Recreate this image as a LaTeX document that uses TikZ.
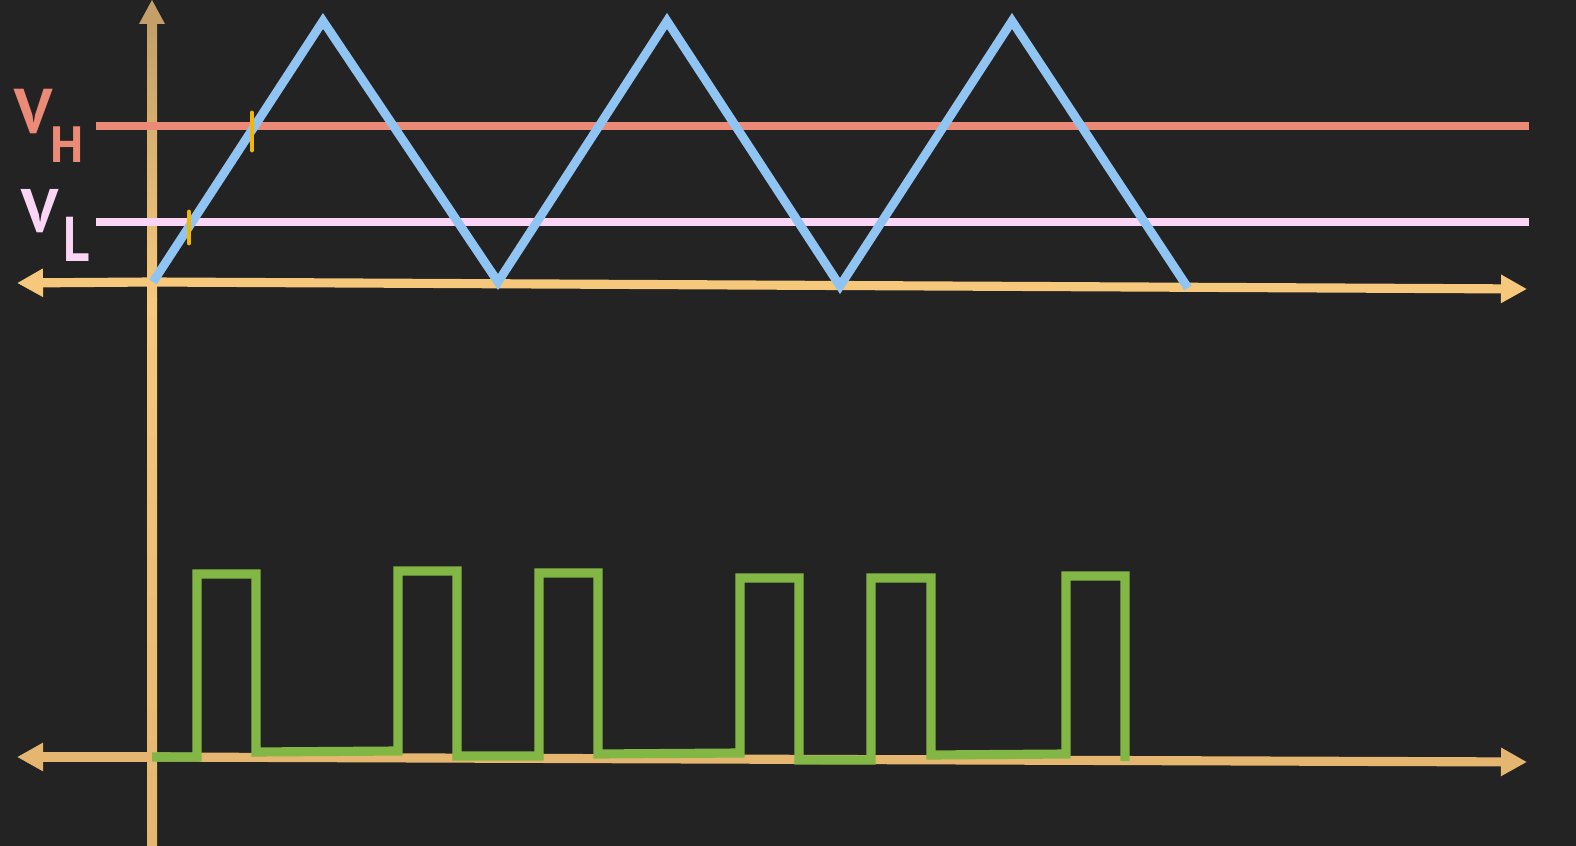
\documentclass[tikz,border=0pt]{standalone}
\usepackage{fontspec}
\newfontfamily\labfont{PT Sans}
\usetikzlibrary{arrows.meta}
\definecolor{bgc}{RGB}{35,35,35}
\definecolor{axisc}{RGB}{246,200,124}
\definecolor{axisd}{RGB}{228,182,112}
\definecolor{axist}{RGB}{196,160,104}
\definecolor{vhc}{RGB}{236,138,120}
\definecolor{vlc}{RGB}{251,213,246}
\definecolor{bluec}{RGB}{144,196,242}
\definecolor{tickc}{RGB}{242,183,5}
\definecolor{greenc}{RGB}{130,183,70}
\tikzset{
  axisline/.style={line width=2.6pt, line cap=butt, -{Triangle[length=7.4pt,width=7.6pt]}},
  levelline/.style={line width=2.3pt},
  wave/.style={bluec, line width=2.5pt, line join=miter},
  pulse/.style={greenc, line width=2.6pt, line join=miter},
  mark tick/.style={tickc, line width=1.4pt, line cap=round},
  lab/.style={inner sep=0pt, anchor=base west}
}
\begin{document}
\begin{tikzpicture}[x=0.01cm,y=-0.01cm]
\fill[bgc] (0,0) rectangle (1576,846);
\useasboundingbox (0,0) rectangle (1576,846);
% coordinates
\coordinate (vb) at (152,846);
\coordinate (vt) at (152,0);
\coordinate (uo) at (152,282);
\coordinate (ul) at (17,283);
\coordinate (ur) at (1527,289);
\coordinate (lo) at (152,757);
\coordinate (ll) at (17,757);
\coordinate (lr) at (1527,762);
\coordinate (vh0) at (96,126);
\coordinate (vh1) at (1529,126);
\coordinate (vl0) at (96,222);
\coordinate (vl1) at (1529,222);
% vertical axis
\shade[top color=axist, bottom color=axisc] (147,24) rectangle (157,300);
\shade[top color=axisc, bottom color=axisd] (147,300) rectangle (157,846);
\fill[axist] (139,24) -- (152,0) -- (165,24) -- cycle;
% horizontal axes
\draw[axisline, axisc] (uo) -- (ul);
\draw[axisline, axisc] (uo) -- (ur);
\draw[axisline, axisd] (lo) -- (lr);
\draw[axisline, axisd] (lo) -- (ll);
% levels
\draw[levelline, vhc] (vh0) -- (vh1);
\draw[levelline, vlc] (vl0) -- (vl1);
% labels
\node[lab, vhc, font=\labfont\bfseries\fontsize{18pt}{18pt}\selectfont] (vhV) at (14,134) {V};
\node[lab, vhc, font=\labfont\bfseries\fontsize{14.5pt}{14.5pt}\selectfont] (vhH) at (50,163) {H};
\node[lab, vlc, font=\labfont\bfseries\fontsize{17.5pt}{17.5pt}\selectfont] (vlV) at (21,233) {V};
\node[lab, vlc, xscale=0.8, font=\labfont\bfseries\fontsize{18pt}{18pt}\selectfont] (vlL) at (63,262) {L};
% triangle wave
\coordinate (t0) at (153,282);
\coordinate (t1) at (323,21);
\coordinate (t2) at (498,282);
\coordinate (t3) at (667,21);
\coordinate (t4) at (840,286);
\coordinate (t5) at (1012,21);
\coordinate (t6) at (1188,288);
\draw[wave] (t0) -- (t1) -- (t2) -- (t3) -- (t4) -- (t5) -- (t6);
% ticks
\draw[mark tick] (252,113) -- (252,150);
\draw[mark tick] (189,212) -- (189,243);
% pulse train
\draw[pulse] (152,757) -- (197,757) -- (197,574) -- (256,574) -- (256,752)
  -- (398,751) -- (398,571) -- (457,571) -- (457,756) -- (539,756)
  -- (539,573) -- (598,573) -- (598,754) -- (740,753) -- (740,578)
  -- (799,578) -- (799,760) -- (871,760) -- (871,578) -- (931,578)
  -- (931,755) -- (1066,754) -- (1066,576) -- (1125,576) -- (1125,761);
\end{tikzpicture}
\end{document}
